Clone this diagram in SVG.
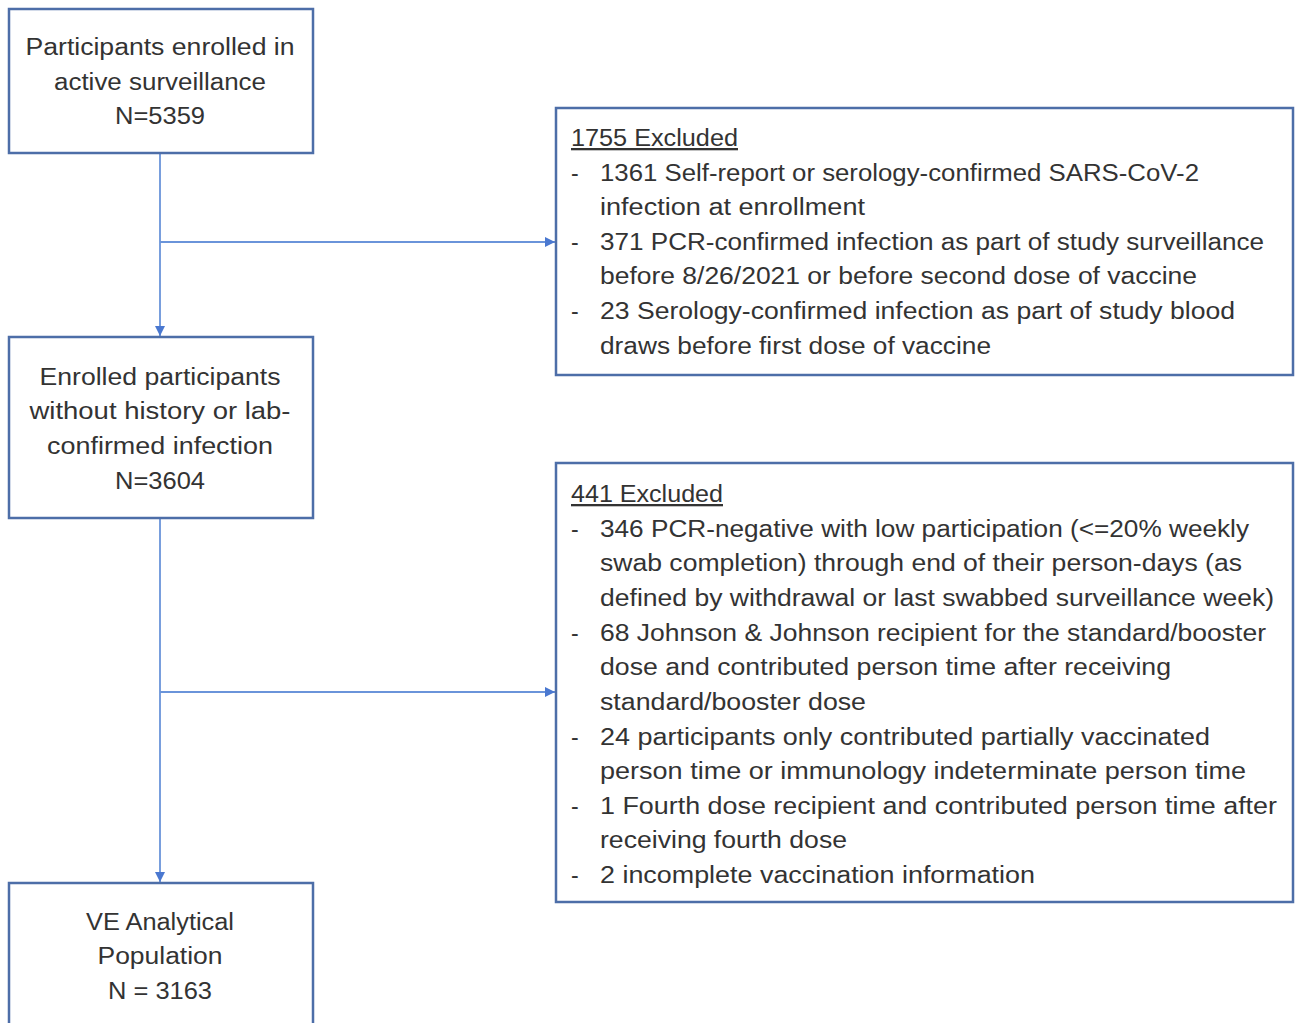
<svg xmlns="http://www.w3.org/2000/svg" width="1298" height="1023" viewBox="0 0 1298 1023">
<style>
.box{fill:#fff;stroke:#4d6ea8;stroke-width:2.5}
.t{font-family:"Liberation Sans",Arial,sans-serif;font-size:23px;fill:#333}
.c{text-anchor:middle}
.u{text-decoration:underline}
.conn{fill:none;stroke:#6a94da;stroke-width:1.8}
</style>
<defs>
<marker id="ah" viewBox="0 0 10 10" refX="10" refY="5" markerWidth="10" markerHeight="10" markerUnits="userSpaceOnUse" orient="auto">
<path d="M0,0 L10,5 L0,10 z" fill="#4a78d0"/>
</marker>
</defs>
<rect width="1298" height="1023" fill="#fff"/>
<g id="connectors">
<path class="conn" d="M160,153 V336" marker-end="url(#ah)"/>
<path class="conn" d="M160,242 H555" marker-end="url(#ah)"/>
<path class="conn" d="M160,518 V882" marker-end="url(#ah)"/>
<path class="conn" d="M160,692 H555" marker-end="url(#ah)"/>
</g>
<g id="node-enrolled">
<rect class="box" x="9" y="9" width="304" height="144"/>
<text class="t c" x="160" y="55" textLength="269" lengthAdjust="spacingAndGlyphs">Participants enrolled in</text>
<text class="t c" x="160" y="90" textLength="212" lengthAdjust="spacingAndGlyphs">active surveillance</text>
<text class="t c" x="160" y="124" textLength="90" lengthAdjust="spacingAndGlyphs">N=5359</text>
</g>
<g id="node-without-history">
<rect class="box" x="9" y="337" width="304" height="181"/>
<text class="t c" x="160" y="385" textLength="241" lengthAdjust="spacingAndGlyphs">Enrolled participants</text>
<text class="t c" x="160" y="419" textLength="261" lengthAdjust="spacingAndGlyphs">without history or lab-</text>
<text class="t c" x="160" y="454" textLength="226" lengthAdjust="spacingAndGlyphs">confirmed infection</text>
<text class="t c" x="160" y="489" textLength="90" lengthAdjust="spacingAndGlyphs">N=3604</text>
</g>
<g id="node-ve-population">
<rect class="box" x="9" y="883" width="304" height="150"/>
<text class="t c" x="160" y="930" textLength="148" lengthAdjust="spacingAndGlyphs">VE Analytical</text>
<text class="t c" x="160" y="964" textLength="125" lengthAdjust="spacingAndGlyphs">Population</text>
<text class="t c" x="160" y="999" textLength="104" lengthAdjust="spacingAndGlyphs">N = 3163</text>
</g>
<g id="node-excluded-1755">
<rect class="box" x="556" y="108" width="737" height="267"/>
<text class="t u" x="571" y="146" textLength="167" lengthAdjust="spacingAndGlyphs">1755 Excluded</text>
<text class="t" x="571" y="181">-</text>
<text class="t" x="600" y="181" textLength="599" lengthAdjust="spacingAndGlyphs">1361 Self-report or serology-confirmed SARS-CoV-2</text>
<text class="t" x="600" y="215" textLength="265" lengthAdjust="spacingAndGlyphs">infection at enrollment</text>
<text class="t" x="571" y="250">-</text>
<text class="t" x="600" y="250" textLength="664" lengthAdjust="spacingAndGlyphs">371 PCR-confirmed infection as part of study surveillance</text>
<text class="t" x="600" y="284" textLength="597" lengthAdjust="spacingAndGlyphs">before 8/26/2021 or before second dose of vaccine</text>
<text class="t" x="571" y="319">-</text>
<text class="t" x="600" y="319" textLength="635" lengthAdjust="spacingAndGlyphs">23 Serology-confirmed infection as part of study blood</text>
<text class="t" x="600" y="354" textLength="391" lengthAdjust="spacingAndGlyphs">draws before first dose of vaccine</text>
</g>
<g id="node-excluded-441">
<rect class="box" x="556" y="463" width="737" height="439"/>
<text class="t u" x="571" y="502" textLength="152" lengthAdjust="spacingAndGlyphs">441 Excluded</text>
<text class="t" x="571" y="537">-</text>
<text class="t" x="600" y="537" textLength="649" lengthAdjust="spacingAndGlyphs">346 PCR-negative with low participation (&lt;=20% weekly</text>
<text class="t" x="600" y="571" textLength="642" lengthAdjust="spacingAndGlyphs">swab completion) through end of their person-days (as</text>
<text class="t" x="600" y="606" textLength="674" lengthAdjust="spacingAndGlyphs">defined by withdrawal or last swabbed surveillance week)</text>
<text class="t" x="571" y="641">-</text>
<text class="t" x="600" y="641" textLength="666" lengthAdjust="spacingAndGlyphs">68 Johnson &amp; Johnson recipient for the standard/booster</text>
<text class="t" x="600" y="675" textLength="571" lengthAdjust="spacingAndGlyphs">dose and contributed person time after receiving</text>
<text class="t" x="600" y="710" textLength="266" lengthAdjust="spacingAndGlyphs">standard/booster dose</text>
<text class="t" x="571" y="745">-</text>
<text class="t" x="600" y="745" textLength="610" lengthAdjust="spacingAndGlyphs">24 participants only contributed partially vaccinated</text>
<text class="t" x="600" y="779" textLength="646" lengthAdjust="spacingAndGlyphs">person time or immunology indeterminate person time</text>
<text class="t" x="571" y="814">-</text>
<text class="t" x="600" y="814" textLength="677" lengthAdjust="spacingAndGlyphs">1 Fourth dose recipient and contributed person time after</text>
<text class="t" x="600" y="848" textLength="247" lengthAdjust="spacingAndGlyphs">receiving fourth dose</text>
<text class="t" x="571" y="883">-</text>
<text class="t" x="600" y="883" textLength="435" lengthAdjust="spacingAndGlyphs">2 incomplete vaccination information</text>
</g>
</svg>
